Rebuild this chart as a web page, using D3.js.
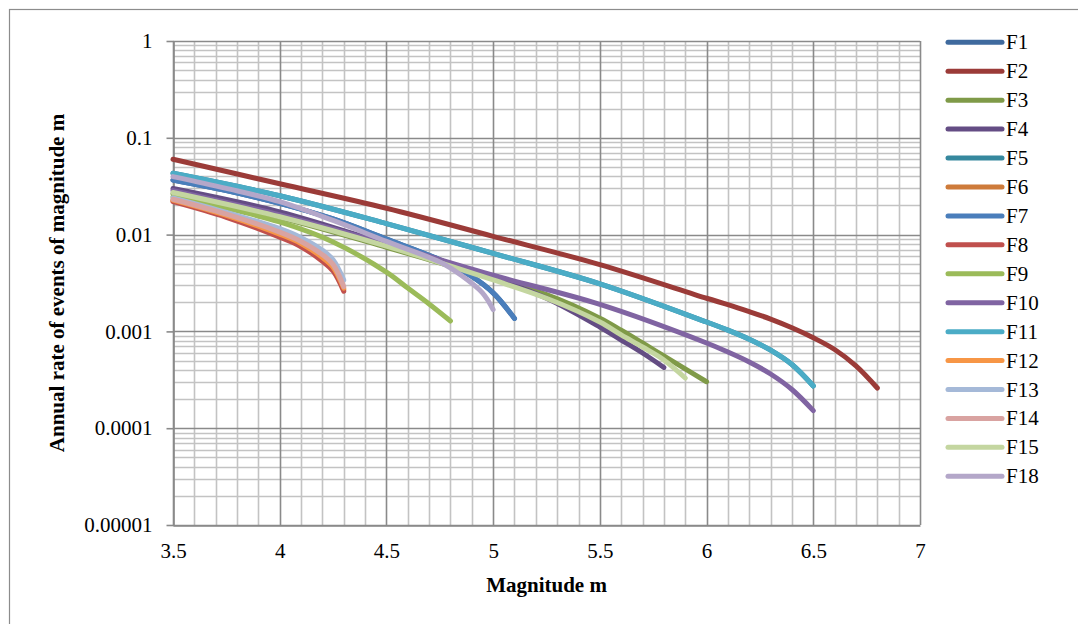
<!DOCTYPE html>
<html>
<head>
<meta charset="utf-8">
<script src="https://cdn.jsdelivr.net/npm/d3@7"></script>
<style>
  html, body { margin: 0; padding: 0; background: #fff; }
  svg { display: block; }
  text { font-family: "Liberation Serif", "Times New Roman", serif; fill: #000; }
</style>
</head>
<body>
<svg id="chart" width="1078" height="624"></svg>
<script>
// ---------------- DATA ----------------
const seriesNames = ["F1","F2","F3","F4","F5","F6","F7","F8","F9","F10","F11","F12","F13","F14","F15","F18"];
const seriesColors = ["#3f6a9e","#9b3b38","#7f9a48","#644d84","#36889e","#ce7b3a","#4a7ebb","#c0504d",
                      "#9bbb59","#8064a2","#4bacc6","#f79646","#a5b9d8","#d9a3a1","#c4d6a0","#b4a7c9"];

const m_F1  = [3.5, 3.75, 4.0, 4.25, 4.5, 4.75, 4.9, 5.0, 5.1];
const r_F1  = [0.0367, 0.0285, 0.0210, 0.0145, 0.0090, 0.0055, 0.0037, 0.0025, 0.00136];
const m_F2  = [3.5, 4.0, 4.5, 5.0, 5.5, 6.0, 6.1, 6.2, 6.3, 6.4, 6.5, 6.6, 6.7, 6.8];
const r_F2  = [0.060, 0.0335, 0.0187, 0.0096, 0.0049, 0.0022, 0.00189, 0.00160, 0.00134, 0.00109, 0.00086, 0.00065, 0.00044, 0.00026];
const m_F3  = [3.5, 4.0, 4.5, 5.0, 5.25, 5.5, 5.6, 5.7, 5.8, 5.9, 6.0];
const r_F3  = [0.0265, 0.0150, 0.0074, 0.0035, 0.0024, 0.00137, 0.00103, 0.00076, 0.000557, 0.000409, 0.000302];
const m_F4  = [3.5, 4.0, 4.5, 5.0, 5.25, 5.5, 5.6, 5.7, 5.8];
const r_F4  = [0.030, 0.0172, 0.0080, 0.0036, 0.0022, 0.00111, 0.000815, 0.000598, 0.000424];
const m_F5  = [3.5, 4.0, 4.5, 5.0, 5.5, 6.0, 6.1, 6.2, 6.3, 6.4, 6.5];
const r_F5  = [0.043, 0.0252, 0.0130, 0.0064, 0.00310, 0.00125, 0.00103, 0.00083, 0.00064, 0.000455, 0.000273];
const m_F6  = [3.5, 3.75, 4.0, 4.1, 4.2, 4.25, 4.3];
const r_F6  = [0.0225, 0.0156, 0.0099, 0.0079, 0.0057, 0.0045, 0.0027];
const m_F7  = [3.5, 3.75, 4.0, 4.25, 4.5, 4.75, 4.9, 5.0, 5.1];
const r_F7  = [0.0367, 0.0285, 0.0210, 0.0145, 0.0090, 0.0055, 0.0037, 0.0025, 0.00136];
const m_F8  = [3.5, 3.75, 4.0, 4.1, 4.2, 4.25, 4.3];
const r_F8  = [0.0219, 0.0151, 0.0094, 0.0075, 0.0053, 0.0042, 0.0026];
const m_F9  = [3.5, 3.75, 4.0, 4.25, 4.5, 4.6, 4.7, 4.8];
const r_F9  = [0.0246, 0.0188, 0.0135, 0.0084, 0.0041, 0.0028, 0.00192, 0.00128];
const m_F10 = [3.5, 4.0, 4.5, 5.0, 5.5, 6.0, 6.1, 6.2, 6.3, 6.4, 6.5];
const r_F10 = [0.0285, 0.0160, 0.0080, 0.0038, 0.0019, 0.000759, 0.000612, 0.000483, 0.000363, 0.000251, 0.000152];
const m_F11 = [3.5, 4.0, 4.5, 5.0, 5.5, 6.0, 6.1, 6.2, 6.3, 6.4, 6.5];
const r_F11 = [0.043, 0.0252, 0.0130, 0.0064, 0.00310, 0.00125, 0.00103, 0.00083, 0.00064, 0.000455, 0.000273];
const m_F12 = [3.5, 3.75, 4.0, 4.1, 4.2, 4.25, 4.3];
const r_F12 = [0.0227, 0.0158, 0.0101, 0.0081, 0.0058, 0.0046, 0.0028];
const m_F13 = [3.5, 3.75, 4.0, 4.1, 4.2, 4.25, 4.3];
const r_F13 = [0.0240, 0.0170, 0.0115, 0.0093, 0.0069, 0.0055, 0.0034];
const m_F14 = [3.5, 3.75, 4.0, 4.1, 4.2, 4.25, 4.3];
const r_F14 = [0.0232, 0.0163, 0.0106, 0.0085, 0.0062, 0.0049, 0.0029];
const m_F15 = [3.5, 4.0, 4.5, 5.0, 5.25, 5.5, 5.6, 5.7, 5.8, 5.9];
const r_F15 = [0.0272, 0.0153, 0.0076, 0.0034, 0.0022, 0.00125, 0.00092, 0.00069, 0.000507, 0.00033];
const m_F18 = [3.5, 3.75, 4.0, 4.25, 4.5, 4.75, 4.85, 4.95, 5.0];
const r_F18 = [0.0397, 0.0300, 0.0219, 0.0140, 0.0085, 0.0052, 0.0038, 0.0025, 0.00168];

const xTickValues = [3.5, 4, 4.5, 5, 5.5, 6, 6.5, 7];
const xTickLabels = ["3.5", "4", "4.5", "5", "5.5", "6", "6.5", "7"];
const yTickValues = [1, 0.1, 0.01, 0.001, 0.0001, 0.00001];
const yTickLabels = ["1", "0.1", "0.01", "0.001", "0.0001", "0.00001"];
const xTitle = "Magnitude m";
const yTitle = "Annual rate of events of magnitude m";

const seriesM = [m_F1,m_F2,m_F3,m_F4,m_F5,m_F6,m_F7,m_F8,m_F9,m_F10,m_F11,m_F12,m_F13,m_F14,m_F15,m_F18];
const seriesR = [r_F1,r_F2,r_F3,r_F4,r_F5,r_F6,r_F7,r_F8,r_F9,r_F10,r_F11,r_F12,r_F13,r_F14,r_F15,r_F18];

// ---------------- LAYOUT ----------------
const W = 1078, H = 624;
const plot = { left: 173, right: 920, top: 41, bottom: 525 };
const FS = 21;

const svg = d3.select("#chart");
svg.append("rect").attr("width", W).attr("height", H).attr("fill", "#fff");
svg.append("rect").attr("x", 9.5).attr("y", 9.5).attr("width", W + 20).attr("height", H + 20)
  .attr("fill", "none").attr("stroke", "#8c8c8c").attr("stroke-width", 1.2);

const x = d3.scaleLinear().domain([3.5, 7]).range([plot.left, plot.right]);
const y = d3.scaleLog().domain([0.00001, 1]).range([plot.bottom, plot.top]);

// ---------------- GRID ----------------
const grid = svg.append("g");
const xMinor = d3.range(35, 71, 1).map(d => d / 10);
grid.selectAll("line.xminor").data(xMinor.filter(v => Math.abs(v * 2 - Math.round(v * 2)) > 1e-6))
  .join("line").attr("class", "xminor")
  .attr("x1", d => Math.round(x(d)) + 0.5).attr("x2", d => Math.round(x(d)) + 0.5)
  .attr("y1", plot.top).attr("y2", plot.bottom)
  .attr("stroke", "#c3c3c3").attr("stroke-width", 1.6);
const yMinor = y.ticks().filter(v => !yTickValues.some(t => Math.abs(Math.log10(t) - Math.log10(v)) < 1e-6));
grid.selectAll("line.yminor").data(yMinor)
  .join("line").attr("class", "yminor")
  .attr("x1", plot.left).attr("x2", plot.right)
  .attr("y1", d => Math.round(y(d)) + 0.5).attr("y2", d => Math.round(y(d)) + 0.5)
  .attr("stroke", "#c3c3c3").attr("stroke-width", 1.6);
grid.selectAll("line.xmajor").data(xTickValues)
  .join("line").attr("class", "xmajor")
  .attr("x1", d => Math.round(x(d)) + 0.5).attr("x2", d => Math.round(x(d)) + 0.5)
  .attr("y1", plot.top).attr("y2", plot.bottom)
  .attr("stroke", "#8a8a8a").attr("stroke-width", 1.6);
grid.selectAll("line.ymajor").data(yTickValues)
  .join("line").attr("class", "ymajor")
  .attr("x1", plot.left).attr("x2", plot.right)
  .attr("y1", d => Math.round(y(d)) + 0.5).attr("y2", d => Math.round(y(d)) + 0.5)
  .attr("stroke", "#8a8a8a").attr("stroke-width", 1.6);

// ---------------- AXES ----------------
const yAxis = d3.axisLeft(y).tickValues(yTickValues)
  .tickFormat((d, i) => yTickLabels[i]).tickSizeInner(7).tickSizeOuter(0).tickPadding(14);
const gy = svg.append("g").attr("transform", `translate(${plot.left + 0.5},0)`).call(yAxis);
gy.select(".domain").attr("stroke", "#8a8a8a").attr("stroke-width", 1.6);
gy.selectAll(".tick line").attr("stroke", "#8a8a8a").attr("stroke-width", 1.6);
gy.selectAll(".tick text").attr("font-family", "Liberation Serif, serif").attr("font-size", FS).attr("fill", "#000");

const xAxis = d3.axisBottom(x).tickValues(xTickValues)
  .tickFormat((d, i) => xTickLabels[i]).tickSize(0).tickPadding(18);
const gx = svg.append("g").attr("transform", `translate(0,${plot.bottom + 0.5})`).call(xAxis);
gx.select(".domain").attr("stroke", "#8a8a8a").attr("stroke-width", 1.6);
gx.selectAll(".tick text").attr("font-family", "Liberation Serif, serif").attr("font-size", FS).attr("fill", "#000");

// ---------------- SERIES ----------------
const line = d3.line().x(d => x(d[0])).y(d => y(d[1])).curve(d3.curveCatmullRom.alpha(0.5));
const gLines = svg.append("g");
seriesNames.forEach((name, i) => {
  const pts = seriesM[i].map((m, j) => [m, seriesR[i][j]]);
  gLines.append("path").datum(pts)
    .attr("d", line)
    .attr("fill", "none")
    .attr("stroke", seriesColors[i])
    .attr("stroke-width", 5)
    .attr("stroke-linecap", "round")
    .attr("stroke-linejoin", "round");
});

// ---------------- TITLES ----------------
svg.append("text").attr("x", (plot.left + plot.right) / 2).attr("y", 592)
  .attr("text-anchor", "middle").attr("font-weight", "bold").attr("font-size", FS).text(xTitle);
svg.append("text").attr("transform", `translate(64,${(plot.top + plot.bottom) / 2}) rotate(-90)`)
  .attr("text-anchor", "middle").attr("font-weight", "bold").attr("font-size", FS).text(yTitle);

// ---------------- LEGEND ----------------
const legendY = d3.scalePoint().domain(seriesNames).range([42.3, 476.3]);
const lg = svg.append("g");
seriesNames.forEach((name, i) => {
  const yy = legendY(name);
  lg.append("line").attr("x1", 948).attr("x2", 1002).attr("y1", yy).attr("y2", yy)
    .attr("stroke", seriesColors[i]).attr("stroke-width", 5).attr("stroke-linecap", "round");
  lg.append("text").attr("x", 1006).attr("y", yy + 7).attr("font-size", FS).text(name);
});
</script>
</body>
</html>
